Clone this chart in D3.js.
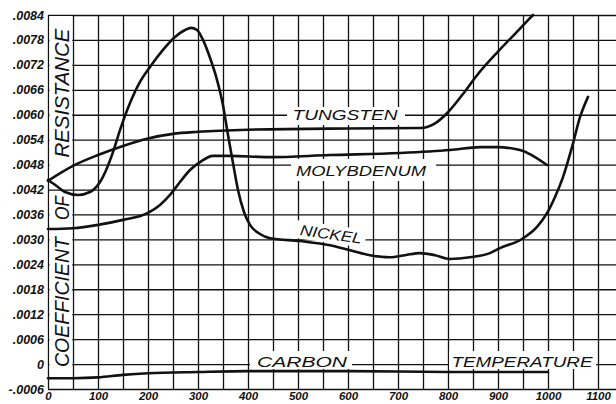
<!DOCTYPE html>
<html><head><meta charset="utf-8">
<script src="https://cdn.jsdelivr.net/npm/d3@7"></script>
<style>html,body{margin:0;padding:0;background:#fff;} svg{display:block;}</style>
</head><body>
<svg id="chart" width="616" height="404"></svg>
<script>
// ---- data ----
const temperatureTicks = [0,100,200,300,400,500,600,700,800,900,1000,1100];
const resistanceTicks = [-0.0006,0,0.0006,0.0012,0.0018,0.0024,0.0030,0.0036,0.0042,0.0048,0.0054,0.0060,0.0066,0.0072,0.0078,0.0084];

const tungstenTemp = [0,50,100,150,200,250,300,400,600,745,775,800,830,860,900,935,970];
const tungstenCoef = [0.00441,0.00477,0.00503,0.00525,0.00543,0.00554,0.00559,0.00564,0.00567,0.00568,0.0058,0.00606,0.0065,0.00698,0.00752,0.00796,0.0084];

const nickelTemp = [0,18,34,60,84,104,118,130,144,164,184,204,230,254,274,286,298,310,324,338,350,360,370,380,392,404,424,444,504,564,604,644,684,714,744,774,804,844,884,904,948,978,998,1014,1030,1048,1064,1080];
const nickelCoef = [0.00443,0.00428,0.00414,0.00407,0.00414,0.00438,0.00472,0.0051,0.00563,0.00628,0.00679,0.00715,0.00756,0.00787,0.00804,0.00809,0.00804,0.0078,0.00737,0.00684,0.00623,0.00551,0.00484,0.00419,0.00366,0.00335,0.00313,0.00303,0.00296,0.00286,0.00274,0.00262,0.00257,0.00262,0.00267,0.00262,0.00253,0.00257,0.00267,0.00279,0.00301,0.0033,0.00363,0.00402,0.0045,0.00522,0.00594,0.00643];

const molybdenumTemp = [0,50,100,150,200,224,244,264,284,304,330,364,444,564,704,804,864,898,944,998];
const molybdenumCoef = [0.00325,0.00327,0.00335,0.00347,0.00364,0.00383,0.00407,0.00438,0.00467,0.00486,0.00501,0.00501,0.00498,0.00503,0.00508,0.00515,0.00522,0.00522,0.00515,0.00479];

const carbonTemp = [0,50,100,150,200,300,400,600,800,1000];
const carbonCoef = [-0.00034,-0.00034,-0.00032,-0.00026,-0.00022,-0.00019,-0.00017,-0.00017,-0.00019,-0.00019];

const seriesNames = ["TUNGSTEN","MOLYBDENUM","NICKEL","CARBON"];
const axisTitleWords = ["RESISTANCE","OF","COEFFICIENT"];
const xTitle = "TEMPERATURE";

// ---- layout ----
const W = 616, H = 404;
const padL = 48, padR = 616, padT = 15, padB = 389;
const x = d3.scaleLinear().domain([0, 1136]).range([padL, padR]);
const y = d3.scaleLinear().domain([-0.0006, 0.0084]).range([padB, padT]);

const svg = d3.select("#chart");
svg.append("rect").attr("width", W).attr("height", H).attr("fill", "#fff");

const font = "'Liberation Sans', Arial, sans-serif";
const ink = "#111";

const fmtY = d => d === 0 ? "0" : (d < 0 ? "-" : "") + d3.format(".4f")(Math.abs(d)).replace(/^0/, "");

const xAxis = d3.axisBottom(x)
  .tickValues(d3.range(0, 1101, 50))
  .tickSize(-(padB - padT))
  .tickPadding(3)
  .tickFormat(d => temperatureTicks.includes(d) ? String(d) : "");
const gx = svg.append("g").attr("transform", `translate(0,${padB})`).call(xAxis);
gx.select(".domain").remove();
gx.selectAll(".tick line").attr("stroke", ink).attr("stroke-width", 1.3);
gx.selectAll(".tick text").attr("fill", ink).attr("font-family", font)
  .attr("font-size", 11.5).attr("font-style", "italic").attr("font-weight", "bold");

const yAxis = d3.axisLeft(y)
  .tickValues(resistanceTicks)
  .tickSize(-(padR - padL))
  .tickPadding(4)
  .tickFormat(fmtY);
const gy = svg.append("g").attr("transform", `translate(${padL},0)`).call(yAxis);
gy.select(".domain").remove();
gy.selectAll(".tick line").attr("stroke", ink).attr("stroke-width", 1.3);
gy.selectAll(".tick text").attr("fill", ink).attr("font-family", font)
  .attr("font-size", 12.5).attr("font-style", "italic").attr("font-weight", "bold");

// ---- label boxes (white, interrupt grid) ----
const boxes = svg.append("g");
function box(x0, y0, x1, y1) {
  boxes.append("rect").attr("x", x0).attr("y", y0).attr("width", x1 - x0).attr("height", y1 - y0).attr("fill", "#fff");
}
box(49.5, 16, 72.2, 189);
box(49.5, 193, 72.2, 225);
box(49.5, 229, 72.2, 372);
box(287, 107, 405, 125);
box(291, 159, 436, 181);
box(250, 351, 352, 369);
box(449, 351, 596, 369);

const nk = {cx: x(566), cy: y(0.00313)};
svg.append("rect").attr("x", -35).attr("y", -9).attr("width", 70).attr("height", 18).attr("fill", "#fff")
  .attr("transform", `translate(${nk.cx},${nk.cy}) rotate(8)`);

// ---- text labels ----
const lab = svg.append("g").attr("font-family", font).attr("font-style", "italic").attr("fill", ink);
function label(text, cx, cy, size, len, rot) {
  lab.append("text").text(text)
    .attr("transform", `translate(${cx},${cy}) rotate(${rot || 0})`)
    .attr("text-anchor", "middle").attr("dy", "0.36em")
    .attr("font-size", size)
    .attr("textLength", len).attr("lengthAdjust", "spacingAndGlyphs");
}
label(axisTitleWords[0], 61.5, 93, 20, 129, -90);
label(axisTitleWords[1], 61.5, 208, 20, 24, -90);
label(axisTitleWords[2], 61.5, 302, 20, 130, -90);

label(seriesNames[0], x(594), y(0.0060), 15, 105);
label(seriesNames[1], x(626), y(0.00467), 15.5, 130);
label(seriesNames[2], nk.cx, nk.cy, 15, 62, 8);
label(seriesNames[3], x(508), y(0.00007), 15.5, 90);
label(xTitle, x(948), y(0.00007), 15.5, 141);

// ---- curves ----
const line = d3.line().x(d => x(d[0])).y(d => y(d[1])).curve(d3.curveMonotoneX);
const curves = [
  d3.zip(tungstenTemp, tungstenCoef),
  d3.zip(nickelTemp, nickelCoef),
  d3.zip(molybdenumTemp, molybdenumCoef),
  d3.zip(carbonTemp, carbonCoef)
];
svg.append("g").selectAll("path").data(curves).join("path")
  .attr("d", line).attr("fill", "none").attr("stroke", ink)
  .attr("stroke-width", 2.6).attr("stroke-linecap", "round").attr("stroke-linejoin", "round");
</script>
</body></html>
